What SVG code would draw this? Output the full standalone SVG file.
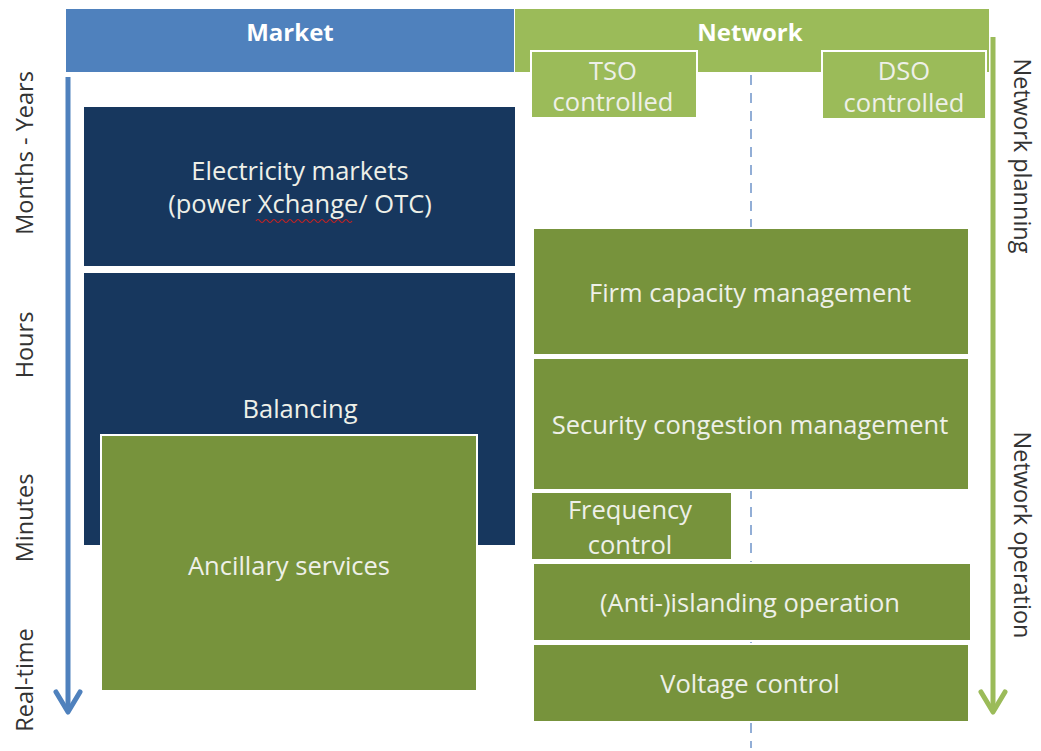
<svg xmlns="http://www.w3.org/2000/svg" width="1041" height="751" viewBox="0 0 1041 751">
<style>
.t{font-family:"Open Sans","Liberation Sans",sans-serif;fill:#eef0e8;text-anchor:middle;font-size:25.5px}
.h{font-family:"Open Sans","Liberation Sans",sans-serif;fill:#ffffff;text-anchor:middle;font-size:24px;font-weight:bold}
.ax{font-family:"Open Sans","Liberation Sans",sans-serif;fill:#333333;text-anchor:middle;font-size:23.5px}
.navy{fill:#17375e;stroke:#ffffff;stroke-width:2}
.grn{fill:#77933c;stroke:#ffffff;stroke-width:2}
.lg{fill:#9bbb59;stroke:#ffffff;stroke-width:2}
</style>
<rect width="1041" height="751" fill="#ffffff"/>
<g id="market-header">
<rect x="66" y="9" width="448" height="63" fill="#4f81bd"/>
<text class="h" x="290" y="41">Market</text>
</g>
<g id="network-header">
<rect x="515" y="9" width="474" height="63" fill="#9bbb59"/>
<text class="h" x="750" y="41">Network</text>
</g>
<g id="tso">
<rect class="lg" x="531" y="51" width="166" height="67"/>
<text class="t" x="613" y="80">TSO</text>
<text class="t" x="613" y="111">controlled</text>
</g>
<g id="dso">
<rect class="lg" x="822" y="51" width="164" height="68"/>
<text class="t" x="904" y="80">DSO</text>
<text class="t" x="904" y="112">controlled</text>
</g>
<g id="connectors">
<line x1="751" y1="75" x2="751" y2="748" stroke="#6f94c9" stroke-width="1.5" stroke-dasharray="10,8"/>
<line x1="68" y1="77" x2="68" y2="712" stroke="#4f81bd" stroke-width="5"/>
<polyline points="56,692 68,712 80,692" fill="none" stroke="#4f81bd" stroke-width="5" stroke-linecap="round" stroke-linejoin="round"/>
<line x1="993" y1="37" x2="993" y2="712" stroke="#9bbb59" stroke-width="5"/>
<polyline points="981,692 993,712 1005,692" fill="none" stroke="#9bbb59" stroke-width="5" stroke-linecap="round" stroke-linejoin="round"/>
</g>
<g id="axis-labels">
<text class="ax" transform="translate(33,153) rotate(-90)">Months - Years</text>
<text class="ax" transform="translate(33,345) rotate(-90)">Hours</text>
<text class="ax" transform="translate(33,518) rotate(-90)">Minutes</text>
<text class="ax" transform="translate(33,680) rotate(-90)">Real-time</text>
<text class="ax" transform="translate(1014,156) rotate(90)">Network planning</text>
<text class="ax" transform="translate(1014,535) rotate(90)">Network operation</text>
</g>
<g id="electricity-markets">
<rect class="navy" x="83" y="106" width="433" height="161"/>
<text class="t" x="300" y="180">Electricity markets</text>
<text class="t" x="300" y="213">(power Xchange/ OTC)</text>
<path d="M256,221 q2,-3 4,0 t4,0 t4,0 t4,0 t4,0 t4,0 t4,0 t4,0 t4,0 t4,0 t4,0 t4,0 t4,0 t4,0 t4,0 t4,0 t4,0 t4,0 t4,0 t4,0 t4,0 t4,0 t4,0 t4,0" fill="none" stroke="#cc2222" stroke-width="1.2"/>
</g>
<g id="balancing">
<rect class="navy" x="83" y="272" width="433" height="274"/>
<text class="t" x="300" y="418">Balancing</text>
</g>
<g id="ancillary">
<rect class="grn" x="101" y="435" width="376" height="256"/>
<text class="t" x="289" y="575">Ancillary services</text>
</g>
<g id="firm-capacity">
<rect class="grn" x="533" y="228" width="436" height="127"/>
<text class="t" x="750" y="302">Firm capacity management</text>
</g>
<g id="security-congestion">
<rect class="grn" x="533" y="358" width="436" height="132"/>
<text class="t" x="750" y="434">Security congestion management</text>
</g>
<g id="frequency">
<rect class="grn" x="531" y="492" width="201" height="68"/>
<text class="t" x="630" y="519">Frequency</text>
<text class="t" x="630" y="554">control</text>
</g>
<g id="anti-islanding">
<rect class="grn" x="533" y="563" width="438" height="78"/>
<text class="t" x="750" y="612">(Anti-)islanding operation</text>
</g>
<g id="voltage">
<rect class="grn" x="533" y="644" width="436" height="78"/>
<text class="t" x="750" y="693">Voltage control</text>
</g>
</svg>
